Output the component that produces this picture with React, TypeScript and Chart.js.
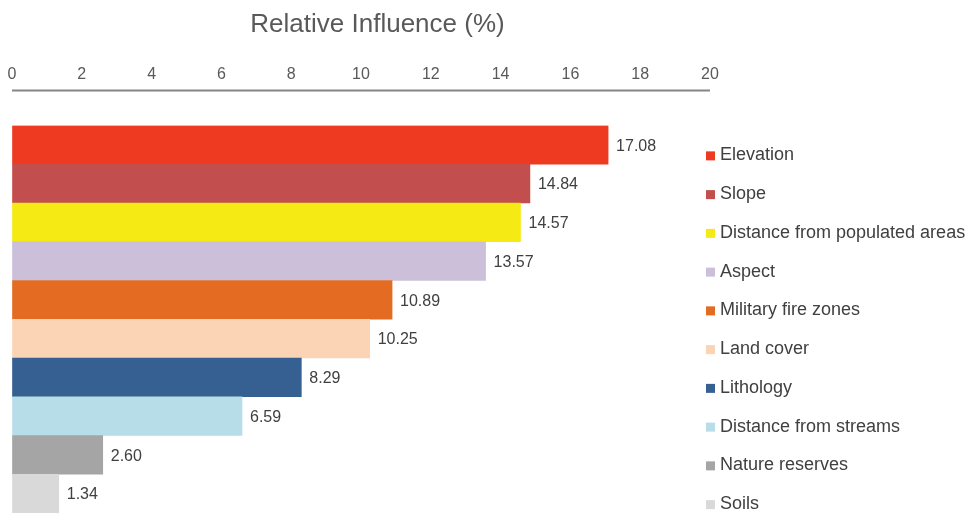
import React, { useEffect, useRef } from "react";
import { Chart, registerables } from "chart.js";

Chart.register(...registerables);

const categories = [
  "Elevation",
  "Slope",
  "Distance from populated areas",
  "Aspect",
  "Military fire zones",
  "Land cover",
  "Lithology",
  "Distance from streams",
  "Nature reserves",
  "Soils",
];

const influence = [17.08, 14.84, 14.57, 13.57, 10.89, 10.25, 8.29, 6.59, 2.6, 1.34];

const barColors = [
  "#EF3A22",
  "#C24F4E",
  "#F5EA13",
  "#CBBFDA",
  "#E36C22",
  "#FBD4B6",
  "#365F92",
  "#B6DDE8",
  "#A5A5A5",
  "#D9D9D9",
];

const axisTitle = "Relative Influence (%)";
const xMin = 0;
const xMax = 20;
const xStep = 2;

const FONT = "'Liberation Sans', Arial, Helvetica, sans-serif";

const decorPlugin = {
  id: "decor",
  afterDraw(chart: any) {
    const ctx = chart.ctx;
    const area = chart.chartArea;
    const xs = chart.scales.x;
    const ys = chart.scales.y;
    ctx.save();

    // title
    ctx.font = `26px ${FONT}`;
    ctx.fillStyle = "#595959";
    ctx.textAlign = "center";
    ctx.textBaseline = "alphabetic";
    ctx.fillText(axisTitle, 377.5, 32);

    // axis line
    ctx.strokeStyle = "#858585";
    ctx.lineWidth = 2;
    ctx.beginPath();
    ctx.moveTo(xs.getPixelForValue(xMin), area.top - 35);
    ctx.lineTo(xs.getPixelForValue(xMax), area.top - 35);
    ctx.stroke();

    // value labels
    ctx.font = `16px ${FONT}`;
    ctx.fillStyle = "#404040";
    ctx.textAlign = "left";
    const meta = chart.getDatasetMeta(0);
    meta.data.forEach((bar: any, i: number) => {
      ctx.fillText(influence[i].toFixed(2), bar.x + 8, bar.y + 5.8);
    });

    // legend
    ctx.font = `18px ${FONT}`;
    categories.forEach((name, i) => {
      const base = ys.getPixelForValue(i) + 15.5;
      ctx.fillStyle = barColors[i];
      ctx.fillRect(area.right - 4, base - 9, 9, 9);
      ctx.fillStyle = "#404040";
      ctx.fillText(name, area.right + 10, base);
    });

    ctx.restore();
  },
};

export default function App() {
  const ref = useRef<HTMLCanvasElement | null>(null);

  useEffect(() => {
    if (!ref.current) return;
    const chart = new Chart(ref.current, {
      type: "bar",
      data: {
        labels: categories,
        datasets: [
          {
            label: axisTitle,
            data: influence,
            backgroundColor: barColors,
            borderWidth: 0,
            barPercentage: 1,
            categoryPercentage: 1,
          },
        ],
      },
      options: {
        indexAxis: "y",
        responsive: false,
        animation: false,
        layout: { padding: { left: 12, right: 263, top: 62.6, bottom: 2 } },
        plugins: {
          legend: { display: false },
          tooltip: { enabled: false },
          title: { display: false },
        },
        scales: {
          x: {
            position: "top",
            min: xMin,
            max: xMax,
            grid: {
              display: true,
              drawOnChartArea: false,
              drawTicks: true,
              tickLength: 38.3,
              color: "rgba(0,0,0,0)",
            },
            border: { display: false },
            ticks: {
              stepSize: xStep,
              padding: 2.7,
              color: "#595959",
              font: { size: 16, family: FONT },
            },
          },
          y: {
            display: false,
            grid: { display: false },
          },
        },
      },
      plugins: [decorPlugin],
    });
    return () => chart.destroy();
  }, []);

  return (
    <div style={{ position: "fixed", left: 0, top: 0, width: 973, height: 515, background: "#fff" }}>
      <canvas ref={ref} width={973} height={515} style={{ display: "block" }} />
    </div>
  );
}
